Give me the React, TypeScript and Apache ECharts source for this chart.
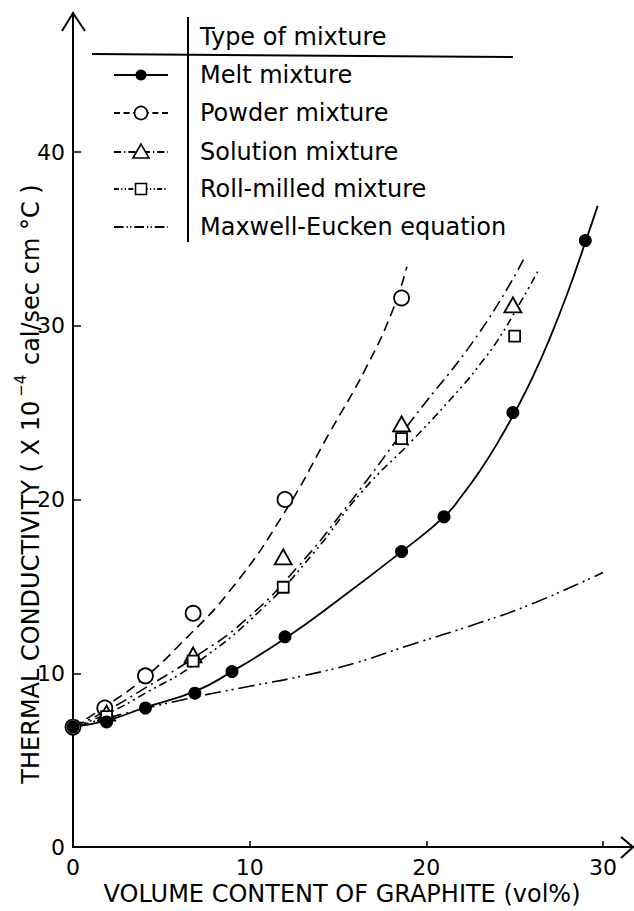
import React, { useEffect, useRef } from 'react';
import * as echarts from 'echarts';

// ---------- data ----------
const X_TICKS = [0, 10, 20, 30];
const Y_TICKS = [0, 10, 20, 30, 40];

const SERIES_NAMES = [
  'Melt mixture',
  'Powder mixture',
  'Solution mixture',
  'Roll-milled mixture',
  'Maxwell-Eucken equation',
];
const LEGEND_TITLE = 'Type of mixture';
const X_TITLE = 'VOLUME CONTENT OF GRAPHITE (vol%)';

// measured points
const MELT_X = [0, 1.9, 4.1, 6.9, 9.0, 12.0, 18.6, 21.0, 24.9, 29.0];
const MELT_Y = [6.9, 7.2, 8.0, 8.85, 10.1, 12.1, 17.0, 19.0, 25.0, 34.9];
const POWDER_X = [0, 1.8, 4.1, 6.8, 12.0, 18.6];
const POWDER_Y = [6.9, 8.0, 9.85, 13.45, 20.0, 31.6];
const SOLUTION_X = [1.9, 6.8, 11.9, 18.6, 24.9];
const SOLUTION_Y = [7.7, 11.05, 16.7, 24.35, 31.2];
const ROLL_X = [1.9, 6.8, 11.9, 18.6, 25.0];
const ROLL_Y = [7.5, 10.7, 14.95, 23.5, 29.4];

// fitted curves
const MELT_CURVE_X = [0, 2, 4, 7, 9, 12, 15, 18.6, 21, 22, 23, 24, 25, 26, 27, 28, 29, 29.7];
const MELT_CURVE_Y = [6.9, 7.3, 8.0, 9.0, 10.1, 12.0, 14.2, 17.0, 19.0, 20.2, 21.6, 23.2, 25.0, 27.0, 29.3, 31.9, 34.8, 36.9];
const POWDER_CURVE_X = [0, 2, 4, 6, 9, 12, 14.5, 16.6, 18.1, 18.9];
const POWDER_CURVE_Y = [6.9, 8.2, 9.7, 11.6, 14.9, 19.3, 23.8, 27.6, 30.9, 33.4];
const SOLUTION_CURVE_X = [0, 2, 4, 7, 9.8, 12.7, 15.5, 19.2, 23, 25.5];
const SOLUTION_CURVE_Y = [6.9, 7.9, 9.1, 11.0, 13.1, 16.1, 19.6, 24.6, 29.6, 33.8];
const ROLL_CURVE_X = [0, 2, 4, 7, 10.8, 13.6, 16.4, 19.3, 22.1, 23.05, 24, 25.3, 26.4];
const ROLL_CURVE_Y = [6.9, 7.7, 8.8, 10.6, 13.8, 16.9, 20.5, 23.5, 26.6, 27.8, 29.1, 31.3, 33.3];
const MAXWELL_X = [0, 3, 7, 10, 13, 16, 19, 23, 26, 30];
const MAXWELL_Y = [6.9, 7.7, 8.65, 9.25, 9.85, 10.6, 11.6, 12.9, 14.0, 15.8];

// ---------- layout / styles ----------
const W = 634;
const H = 911;
const GRID_LEFT = 73;
const GRID_TOP = 13;
const X_AXIS_Y = 847;
const X_END = 633;
const X_MAX = 31.7;
const Y_MAX = 48;
const FONT = '"DejaVu Sans", sans-serif';

const DASHES: (number[] | 'solid')[] = [
  'solid',
  [10, 6],
  [12, 5, 2, 5],
  [8, 4, 2, 4, 2, 4],
  [16, 5, 2, 4, 2, 5],
];

const zip = (xs: number[], ys: number[]) => xs.map((x, i) => [x, ys[i]]);

export default function App() {
  const ref = useRef<HTMLDivElement>(null);

  useEffect(() => {
    if (!ref.current) return;
    const chart = echarts.init(ref.current, undefined, { renderer: 'svg' });

    const curves = [
      zip(MELT_CURVE_X, MELT_CURVE_Y),
      zip(POWDER_CURVE_X, POWDER_CURVE_Y),
      zip(SOLUTION_CURVE_X, SOLUTION_CURVE_Y),
      zip(ROLL_CURVE_X, ROLL_CURVE_Y),
      zip(MAXWELL_X, MAXWELL_Y),
    ];

    const lineSeries = curves.map((d, i) => ({
      type: 'line',
      name: SERIES_NAMES[i],
      data: d,
      smooth: 0.5,
      showSymbol: false,
      symbol: 'none',
      silent: true,
      z: 2,
      lineStyle: { color: '#000', width: i === 0 ? 1.8 : 1.6, type: DASHES[i] },
    }));

    const open = { color: '#fff', borderColor: '#000', borderWidth: 1.8, opacity: 1 };
    const scatterSeries = [
      { type: 'scatter', data: zip(POWDER_X, POWDER_Y), symbol: 'circle', symbolSize: 15, itemStyle: open },
      { type: 'scatter', data: zip(SOLUTION_X, SOLUTION_Y), symbol: 'triangle', symbolSize: [17, 15], itemStyle: open },
      { type: 'scatter', data: zip(ROLL_X, ROLL_Y), symbol: 'rect', symbolSize: 11, itemStyle: open },
      { type: 'scatter', data: zip(MELT_X, MELT_Y), symbol: 'circle', symbolSize: 13, itemStyle: { color: '#000', opacity: 1 } },
    ].map((s) => ({ ...s, z: 3, silent: true }));

    // legend drawn as graphic
    const LEG_ROW_Y = [75, 113, 152, 189, 227];
    const LEG_SYM_X = 141;
    const LEG_TEXT_X = 200;
    const LEG_FONT = 24;
    const legendEls: any[] = [
      { type: 'line', shape: { x1: 188, y1: 17, x2: 188, y2: 242 }, style: { stroke: '#000', lineWidth: 2 } },
      { type: 'line', shape: { x1: 92, y1: 54, x2: 513, y2: 57 }, style: { stroke: '#000', lineWidth: 2 } },
      {
        type: 'text', x: LEG_TEXT_X, y: 37,
        style: { text: LEGEND_TITLE, fill: '#000', font: `${LEG_FONT}px ${FONT}`, fontSize: LEG_FONT, fontFamily: FONT, textAlign: 'left', textVerticalAlign: 'middle', align: 'left', verticalAlign: 'middle' },
      },
    ];
    SERIES_NAMES.forEach((name, i) => {
      const y = LEG_ROW_Y[i];
      const dash = DASHES[i];
      legendEls.push({
        type: 'line',
        shape: { x1: 114, y1: y, x2: 168, y2: y },
        style: { stroke: '#000', lineWidth: 1.8, lineDash: dash === 'solid' ? null : (dash as number[]).map((v) => v * 0.6) },
      });
      if (i === 0) {
        legendEls.push({ type: 'circle', shape: { cx: LEG_SYM_X, cy: y, r: 5.5 }, style: { fill: '#000' } });
      } else if (i === 1) {
        legendEls.push({ type: 'circle', shape: { cx: LEG_SYM_X, cy: y, r: 6.5 }, style: { fill: '#fff', stroke: '#000', lineWidth: 1.6 } });
      } else if (i === 2) {
        legendEls.push({ type: 'polygon', shape: { points: [[LEG_SYM_X, y - 8], [LEG_SYM_X - 8, y + 6], [LEG_SYM_X + 8, y + 6]] }, style: { fill: '#fff', stroke: '#000', lineWidth: 1.6 } });
      } else if (i === 3) {
        legendEls.push({ type: 'rect', shape: { x: LEG_SYM_X - 5.5, y: y - 5.5, width: 11, height: 11 }, style: { fill: '#fff', stroke: '#000', lineWidth: 1.6 } });
      }
      legendEls.push({
        type: 'text', x: LEG_TEXT_X, y,
        style: { text: name, fill: '#000', font: `${LEG_FONT}px ${FONT}`, fontSize: LEG_FONT, fontFamily: FONT, textAlign: 'left', textVerticalAlign: 'middle', align: 'left', verticalAlign: 'middle' },
      });
    });

    // axis arrows and titles
    const decoEls: any[] = [
      { type: 'polyline', shape: { points: [[62, 31], [GRID_LEFT, GRID_TOP], [85, 31]] }, style: { stroke: '#000', lineWidth: 2, fill: null } },
      { type: 'polyline', shape: { points: [[621, X_AXIS_Y - 10], [X_END, X_AXIS_Y], [621, X_AXIS_Y + 11]] }, style: { stroke: '#000', lineWidth: 2, fill: null } },
      {
        type: 'text', x: 342, y: 894,
        style: { text: X_TITLE, fill: '#000', fontSize: 24, fontFamily: FONT, font: `24px ${FONT}`, textAlign: 'center', textVerticalAlign: 'middle', align: 'center', verticalAlign: 'middle' },
      },
      {
        type: 'text', x: 28, y: 484, rotation: Math.PI / 2,
        style: {
          text: '{a|THERMAL CONDUCTIVITY ( X 10}{s|−4}{a| cal/sec cm °C )}',
          fill: '#000', fontFamily: FONT, fontSize: 24,
          textAlign: 'center', textVerticalAlign: 'middle', align: 'center', verticalAlign: 'middle',
          rich: {
            a: { fontSize: 24, fontFamily: FONT, fill: '#000', color: '#000', lineHeight: 30, verticalAlign: 'bottom' },
            s: { fontSize: 15, fontFamily: FONT, fill: '#000', color: '#000', lineHeight: 30, verticalAlign: 'top', padding: [0, 2, 0, 4] },
          },
        },
      },
    ];

    chart.setOption({
      animation: false,
      backgroundColor: '#fff',
      grid: { left: GRID_LEFT, top: GRID_TOP, width: X_END - GRID_LEFT, height: X_AXIS_Y - GRID_TOP, containLabel: false },
      xAxis: {
        type: 'value', min: 0, max: X_MAX, interval: 10,
        axisLine: { show: true, onZero: false, lineStyle: { color: '#000', width: 2 } },
        axisTick: { show: true, inside: true, length: 6, customValues: X_TICKS, lineStyle: { color: '#000', width: 1.5 } },
        axisLabel: { show: true, customValues: X_TICKS, margin: 9, color: '#000', fontSize: 22, fontFamily: FONT },
        splitLine: { show: false },
      },
      yAxis: {
        type: 'value', min: 0, max: Y_MAX, interval: 10,
        axisLine: { show: true, onZero: false, lineStyle: { color: '#000', width: 2 } },
        axisTick: { show: true, inside: true, length: 8, customValues: Y_TICKS, lineStyle: { color: '#000', width: 1.5 } },
        axisLabel: { show: true, customValues: Y_TICKS, margin: 8, color: '#000', fontSize: 22, fontFamily: FONT },
        splitLine: { show: false },
      },
      series: [...lineSeries, ...scatterSeries],
      graphic: [...legendEls, ...decoEls],
    } as any);

    return () => chart.dispose();
  }, []);

  return (
    <div
      ref={ref}
      style={{ position: 'absolute', left: 0, top: 0, width: W, height: H, background: '#fff' }}
    />
  );
}
